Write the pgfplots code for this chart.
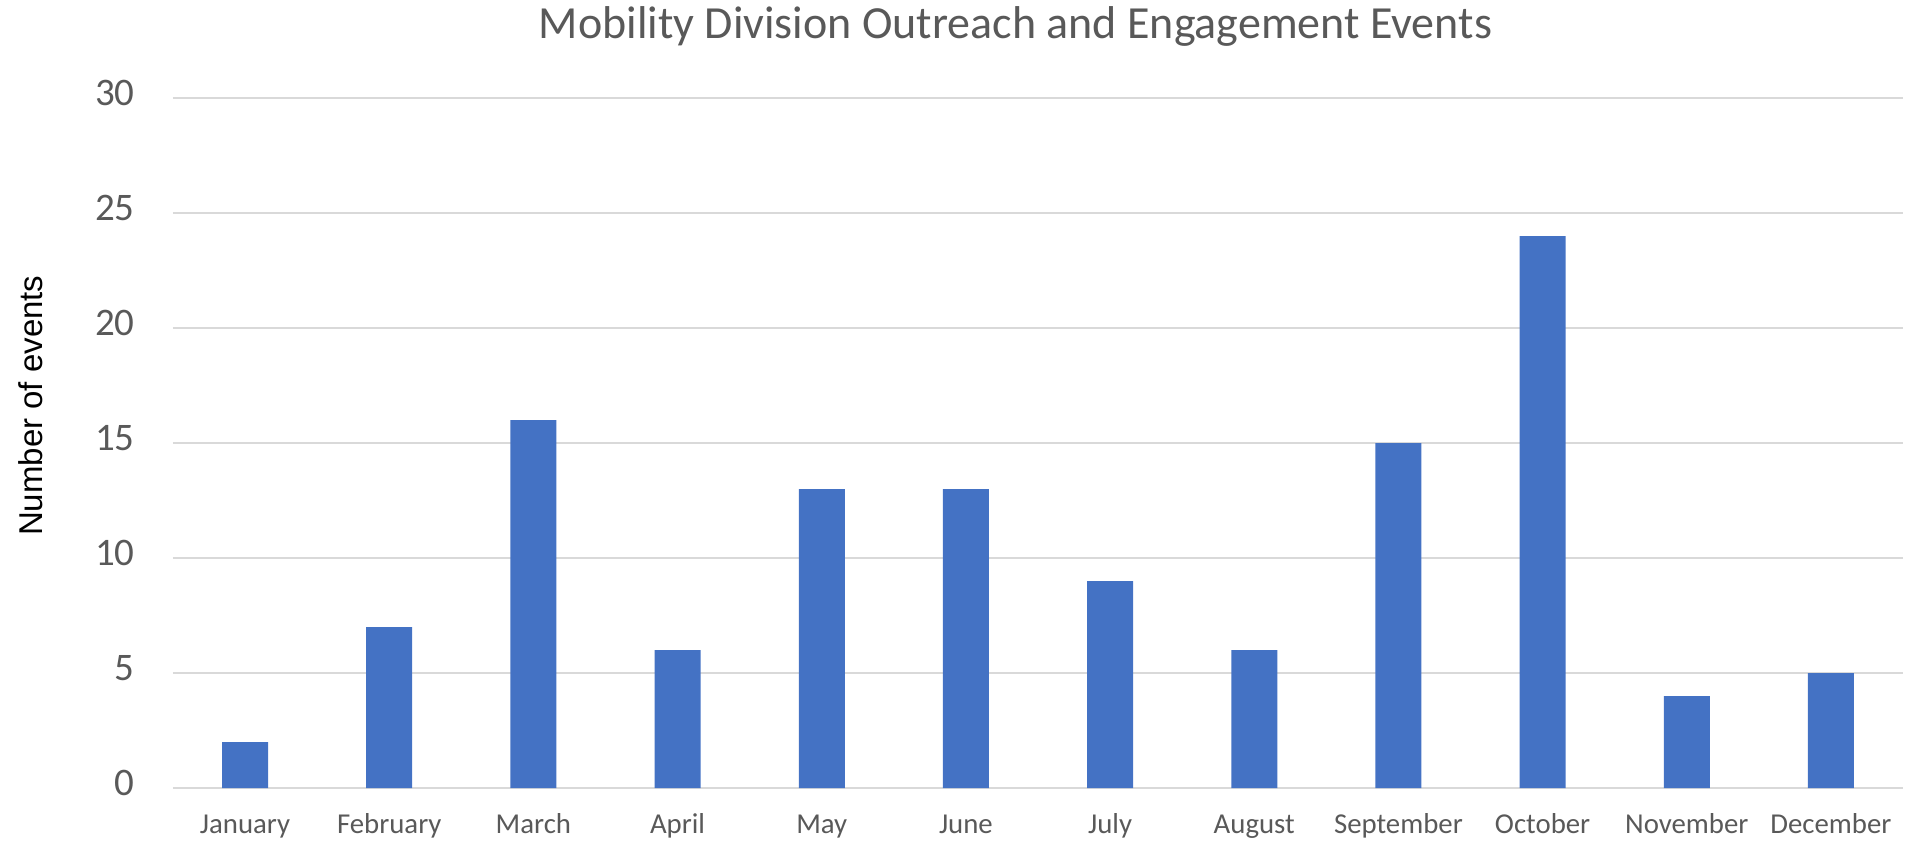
\documentclass[border=0pt]{standalone}
\usepackage{pgfplots}
\pgfplotsset{compat=1.18}
\usepackage{fontspec}
\setmainfont{Carlito}
\newfontfamily\arialfont{Liberation Sans}
\definecolor{barblue}{HTML}{4472C4}
\definecolor{txtgray}{HTML}{595959}
\definecolor{gridgray}{HTML}{D9D9D9}
\begin{document}
\begin{tikzpicture}
\path[use as bounding box] (-86.5pt,-27pt) rectangle (870pt,394pt);
\begin{axis}[
  at={(0,0)}, anchor=south west,
  scale only axis=true,
  width=865pt, height=345pt,
  xmin=-0.5, xmax=11.5,
  ymin=0, ymax=30,
  xtick={0,...,11},
  xticklabels={January,February,March,April,May,June,July,August,September,October,November,December},
  ytick={0,5,...,30},
  /pgf/number format/assume math mode=true,
  axis line style={draw=none},
  major tick length=0pt,
  ymajorgrids=true,
  grid style={draw=gridgray, line width=1.2pt},
  yticklabel style={font=\fontsize{19.5pt}{22pt}\selectfont, text=txtgray, anchor=east, inner sep=0pt, xshift=-19pt, yshift=2.5pt},
  xticklabel style={font=\fontsize{14.4pt}{17pt}\selectfont, text=txtgray, anchor=base, inner sep=0pt, yshift=-22.75pt},
  title={Mobility Division Outreach and Engagement Events},
  title style={font=\fontsize{23pt}{27pt}\selectfont, text=txtgray, at={(axis description cs:0.487,1)}, anchor=base, inner sep=0pt, yshift=23.5pt},
  ylabel={Number of events},
  ylabel style={font=\arialfont\fontsize{16.5pt}{20pt}\selectfont, text=black, at={(axis description cs:-0.0821,0.554)}, anchor=center, inner sep=0pt},
]
\addplot[ybar, bar width=23pt, fill=barblue, draw=none] coordinates {
  (0,2) (1,7) (2,16) (3,6) (4,13) (5,13) (6,9) (7,6) (8,15) (9,24) (10,4) (11,5)
};
\end{axis}
\end{tikzpicture}
\end{document}
